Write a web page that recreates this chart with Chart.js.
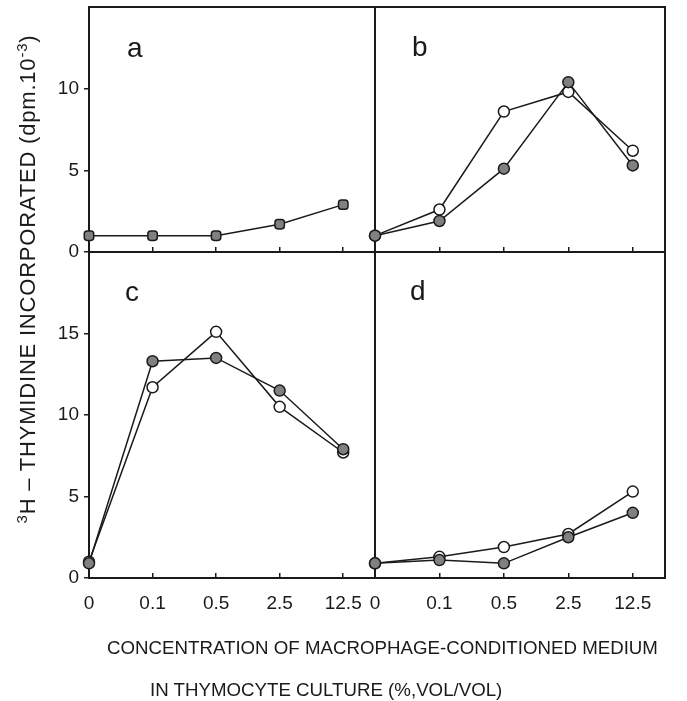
<!DOCTYPE html>
<html>
<head>
<meta charset="utf-8">
<script src="https://cdn.jsdelivr.net/npm/chart.js@4.4.1/dist/chart.umd.min.js"></script>
<style>
  body { margin: 0; background: #fff; }
  #wrap { position: relative; width: 687px; height: 701px; overflow: hidden;
          font-family: 'Liberation Sans', Arial, sans-serif; color: #1a1a1a; }
  canvas { position: absolute; left: 0; top: 0; }
  .lbl { position: absolute; font-size: 28px; line-height: 1; }
  .ytitle { position: absolute; width: 540px; left: -242px; top: 266px; text-align: center;
            transform: rotate(-90deg); white-space: nowrap; font-size: 22px; letter-spacing: 0.8px; line-height: 26px; }
  .ytitle sup { font-size: 0.68em; vertical-align: 0.55em; line-height: 0; }
  .xtitle { position: absolute; white-space: nowrap; font-size: 18.7px; line-height: 1; }
</style>
</head>
<body>
<div id="wrap">
  <canvas id="pa" width="687" height="701"></canvas>
  <canvas id="pb" width="687" height="701"></canvas>
  <canvas id="pc" width="687" height="701"></canvas>
  <canvas id="pd" width="687" height="701"></canvas>
  <div class="lbl" style="left:127px; top:34px;">a</div>
  <div class="lbl" style="left:412px; top:33px;">b</div>
  <div class="lbl" style="left:125px; top:278px;">c</div>
  <div class="lbl" style="left:410px; top:277px;">d</div>
  <div class="ytitle"><sup>3</sup>H – THYMIDINE INCORPORATED (dpm.10<sup>-3</sup>)</div>
  <div class="xtitle" style="left:107px; top:639px;">CONCENTRATION OF MACROPHAGE-CONDITIONED MEDIUM</div>
  <div class="xtitle" style="left:150px; top:681px;">IN THYMOCYTE CULTURE (%,VOL/VOL)</div>
</div>
<script>
// concentrations (% vol/vol), plotted at even spacing
const concLabels = ['0', '0.1', '0.5', '2.5', '12.5'];

// dpm x 10^-3
const aFilled = [1.0, 1.0, 1.0, 1.7, 2.9];
const bFilled = [1.0, 1.9, 5.1, 10.4, 5.3];
const bOpen   = [1.0, 2.6, 8.6, 9.8, 6.2];
const cFilled = [0.9, 13.3, 13.5, 11.5, 7.9];
const cOpen   = [1.0, 11.7, 15.1, 10.5, 7.7];
const dFilled = [0.9, 1.1, 0.9, 2.5, 4.0];
const dOpen   = [0.9, 1.3, 1.9, 2.7, 5.3];

const yTicksTop = [0, 5, 10];
const yTicksBottom = [0, 5, 10, 15];

// panel boxes in page pixels
const L = 89, M = 375, R = 665, T = 7, MID = 252, B = 578;
const YW = 60, XH = 50; // room kept for tick labels

const ink = '#1a1a1a';
const tickFont = { family: "'Liberation Sans', Arial, sans-serif", size: 19 };

// box around every panel
const frame = {
  id: 'frame',
  beforeDatasetsDraw(chart) {
    const { ctx, chartArea: a } = chart;
    ctx.save();
    ctx.strokeStyle = ink;
    ctx.lineWidth = 2;
    ctx.strokeRect(a.left, a.top, a.right - a.left, a.bottom - a.top);
    ctx.restore();
  }
};

function noPad(s) {
  s.paddingTop = 0; s.paddingBottom = 0; s.paddingLeft = 0; s.paddingRight = 0;
}

function series(values, filled, style) {
  return {
    data: values.map((v, i) => ({ x: i, y: v })),
    borderColor: ink,
    borderWidth: 1.5,
    pointBackgroundColor: filled ? '#808080' : '#fff',
    pointBorderColor: ink,
    pointBorderWidth: 1.5,
    pointRadius: 5.5,
    pointStyle: style || 'circle',
    tension: 0,
    clip: false
  };
}

function panel(id, box, yMax, yTicks, datasets, showY, showX) {
  new Chart(document.getElementById(id), {
    type: 'line',
    data: { datasets: datasets },
    options: {
      responsive: false,
      animation: false,
      events: [],
      layout: { padding: { left: box[0] - YW, top: box[1], right: 687 - box[2], bottom: 701 - box[3] - XH } },
      plugins: { legend: { display: false }, tooltip: { enabled: false } },
      scales: {
        x: {
          type: 'linear',
          min: 0,
          max: 4.5,
          afterBuildTicks: s => { s.ticks = concLabels.map((_, i) => ({ value: i })); },
          afterFit: s => { s.height = XH; noPad(s); },
          ticks: { display: showX, callback: v => concLabels[v], font: tickFont, color: ink, padding: 19, maxRotation: 0, autoSkip: false },
          grid: { drawOnChartArea: false, drawTicks: true, tickLength: -5, color: ink, lineWidth: 1.5 },
          border: { display: false }
        },
        y: {
          type: 'linear',
          min: 0,
          max: yMax,
          afterBuildTicks: s => { s.ticks = yTicks.map(v => ({ value: v })); },
          afterFit: s => { s.width = YW; noPad(s); },
          ticks: { display: showY, font: tickFont, color: ink, padding: 5, autoSkip: false },
          grid: { drawOnChartArea: false, drawTicks: showY, tickLength: 5, color: ink, lineWidth: 1.5 },
          border: { display: false }
        }
      }
    },
    plugins: [frame]
  });
}

panel('pa', [L, T, M, MID], 15, yTicksTop, [series(aFilled, true, 'rectRounded')], true, false);
panel('pb', [M, T, R, MID], 15, yTicksTop, [series(bFilled, true), series(bOpen, false)], false, false);
panel('pc', [L, MID, M, B], 20, yTicksBottom, [series(cFilled, true), series(cOpen, false)], true, true);
panel('pd', [M, MID, R, B], 20, yTicksBottom, [series(dFilled, true), series(dOpen, false)], false, true);
</script>
</body>
</html>
